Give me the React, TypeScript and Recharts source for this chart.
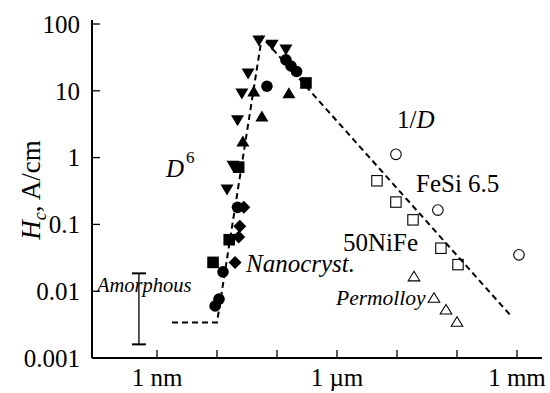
import React from 'react';
import { ScatterChart, Scatter, XAxis, YAxis } from 'recharts';

// grain size D in nm, coercivity Hc in A/cm
const X_TICKS = [1, 10, 100, 1000, 1e4, 1e5, 1e6];
const X_TICK_LABELS: Record<string, string> = { '1': '1 nm', '1000': '1 µm', '1000000': '1 mm' };
const Y_TICKS = [0.001, 0.01, 0.1, 1, 10, 100];

const downTriangles = [
  { d: 50, h: 57.6 }, { d: 83, h: 50 }, { d: 141, h: 42.3 }, { d: 33, h: 18.5 },
  { d: 26, h: 9.3 }, { d: 22, h: 3.7 }, { d: 18.5, h: 0.77 }, { d: 14.7, h: 0.34 },
];
const upTriangles = [
  { d: 27, h: 1.71 }, { d: 56, h: 4.05 }, { d: 41, h: 9.6 }, { d: 158, h: 9.0 },
];
const filledCircles = [
  { d: 68, h: 11.7 }, { d: 141, h: 29 }, { d: 171, h: 23.5 }, { d: 212, h: 19.5 },
  { d: 22, h: 0.18 }, { d: 12.6, h: 0.0195 }, { d: 10.8, h: 0.0076 }, { d: 9.3, h: 0.006 },
];
const filledSquares = [
  { d: 304, h: 13.1 }, { d: 23, h: 0.72 }, { d: 16, h: 0.059 }, { d: 8.6, h: 0.027 },
];
const filledDiamonds = [
  { d: 28, h: 0.18 }, { d: 24, h: 0.094 }, { d: 23, h: 0.065 }, { d: 20, h: 0.027 },
];
const openCircles = [
  { d: 9600, h: 1.12 }, { d: 48000, h: 0.164 }, { d: 1.08e6, h: 0.035 },
];
const openSquares = [
  { d: 4640, h: 0.45 }, { d: 9600, h: 0.216 }, { d: 18500, h: 0.117 },
  { d: 54000, h: 0.044 }, { d: 104000, h: 0.025 },
];
const openTriangles = [
  { d: 19200, h: 0.0163 }, { d: 41400, h: 0.0078 }, { d: 65600, h: 0.0052 }, { d: 100000, h: 0.0034 },
];
const fitLine = [
  { d: 1.78, h: 0.0034 }, { d: 10, h: 0.0034 }, { d: 56, h: 64 }, { d: 826000, h: 0.0041 },
];
const amorphousRange = [
  { d: 0.5, h: 0.0016 }, { d: 0.5, h: 0.0185 },
];

const FONT = "'Liberation Serif', 'Times New Roman', serif";

type Kind = 'circle' | 'square' | 'diamond' | 'up' | 'down';
function marker(kind: Kind, filled: boolean) {
  return (p: any) => {
    const { cx, cy } = p;
    if (cx == null || cy == null) return <g />;
    const fill = filled ? '#000' : 'none';
    const stroke = '#000';
    const sw = filled ? 0 : 1.1;
    if (kind === 'circle') {
      const r = filled ? 5.8 : 5.3;
      return <circle cx={cx} cy={cy} r={r} fill={fill} stroke={stroke} strokeWidth={sw} />;
    }
    if (kind === 'square') {
      const a = filled ? 5.8 : 5.2;
      return <rect x={cx - a} y={cy - a} width={2 * a} height={2 * a} fill={fill} stroke={stroke} strokeWidth={sw} />;
    }
    if (kind === 'diamond') {
      const a = 6.5;
      return <path d={`M${cx},${cy - a}L${cx + a},${cy}L${cx},${cy + a}L${cx - a},${cy}Z`} fill={fill} />;
    }
    const w = filled ? 6.5 : 5.8;
    const h = filled ? 11 : 9.5;
    if (kind === 'up') {
      return <path d={`M${cx},${cy - h * 0.6}L${cx + w},${cy + h * 0.4}L${cx - w},${cy + h * 0.4}Z`} fill={fill} stroke={stroke} strokeWidth={sw} />;
    }
    return <path d={`M${cx},${cy + h * 0.6}L${cx + w},${cy - h * 0.4}L${cx - w},${cy - h * 0.4}Z`} fill={fill} stroke={stroke} strokeWidth={sw} />;
  };
}

const capShape = (p: any) => {
  const { cx, cy } = p;
  if (cx == null) return <g />;
  return <line x1={cx - 7} x2={cx + 7} y1={cy} y2={cy} stroke="#000" strokeWidth={2} />;
};
const noShape = () => <g />;

const tickStyle = { fill: '#000', fontSize: 25, style: { fontFamily: FONT } };

export default function App() {
  return (
    <div style={{ position: 'absolute', left: 0, top: 0, width: 550, height: 393, background: '#fff', fontFamily: FONT }}>
      <ScatterChart width={550} height={393} margin={{ top: 20, right: 8, bottom: 0, left: 0 }} style={{ fontFamily: FONT }}>
        <XAxis
          type="number"
          dataKey="d"
          scale="log"
          domain={[Math.pow(10, -1.083), Math.pow(10, 6.417)]}
          allowDataOverflow
          ticks={X_TICKS}
          tickFormatter={(v: number) => X_TICK_LABELS[String(v)] ?? ''}
          tickSize={-8}
          tickMargin={18}
          height={35}
          axisLine={{ stroke: '#000', strokeWidth: 2 }}
          tickLine={{ stroke: '#000', strokeWidth: 1.3 }}
          tick={tickStyle}
          interval={0}
        />
        <YAxis
          type="number"
          dataKey="h"
          scale="log"
          domain={[0.001, Math.pow(10, 2.06)]}
          allowDataOverflow
          ticks={Y_TICKS}
          tickFormatter={(v: number) => String(v)}
          tickSize={-8}
          tickMargin={20}
          width={92}
          axisLine={{ stroke: '#000', strokeWidth: 2 }}
          tickLine={{ stroke: '#000', strokeWidth: 1.3 }}
          tick={tickStyle}
          interval={0}
        />
        <Scatter data={fitLine} isAnimationActive={false} shape={noShape}
          line={{ stroke: '#000', strokeWidth: 2, strokeDasharray: '6 4' }} />
        <Scatter data={amorphousRange} isAnimationActive={false} shape={capShape}
          line={{ stroke: '#000', strokeWidth: 1.3 }} />
        <Scatter data={downTriangles} isAnimationActive={false} shape={marker('down', true)} />
        <Scatter data={upTriangles} isAnimationActive={false} shape={marker('up', true)} />
        <Scatter data={filledCircles} isAnimationActive={false} shape={marker('circle', true)} />
        <Scatter data={filledSquares} isAnimationActive={false} shape={marker('square', true)} />
        <Scatter data={filledDiamonds} isAnimationActive={false} shape={marker('diamond', true)} />
        <Scatter data={openCircles} isAnimationActive={false} shape={marker('circle', false)} />
        <Scatter data={openSquares} isAnimationActive={false} shape={marker('square', false)} />
        <Scatter data={openTriangles} isAnimationActive={false} shape={marker('up', false)} />
      </ScatterChart>
      <svg width={550} height={393} style={{ position: 'absolute', left: 0, top: 0, pointerEvents: 'none', fontFamily: FONT }}>
        <g fill="#000">
          <text transform="translate(40,190) rotate(-90)" textAnchor="middle" fontSize={27}>
            <tspan fontStyle="italic">H</tspan>
            <tspan fontStyle="italic" fontSize={18} dy={6}>c</tspan>
            <tspan dy={-6}>, A/cm</tspan>
          </text>
          <text x={166} y={177} fontSize={25} fontStyle="italic">D</text>
          <text x={186} y={163} fontSize={17}>6</text>
          <text x={397} y={128} fontSize={25}>1/<tspan fontStyle="italic">D</tspan></text>
          <text x={416} y={192} fontSize={25}>FeSi 6.5</text>
          <text x={343} y={251} fontSize={25}>50NiFe</text>
          <text x={336} y={305} fontSize={21.5} fontStyle="italic">Permolloy</text>
          <text x={246} y={272} fontSize={25} fontStyle="italic">Nanocryst.</text>
          <text x={97} y={292} fontSize={20.5} fontStyle="italic">Amorphous</text>
        </g>
      </svg>
    </div>
  );
}
